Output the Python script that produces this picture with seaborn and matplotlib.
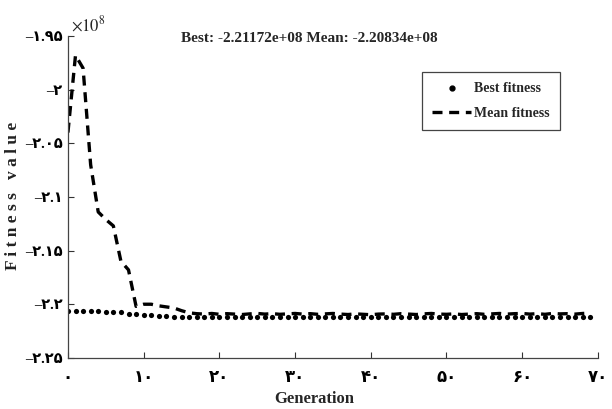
import numpy as np
import pandas as pd
import matplotlib
matplotlib.use("Agg")
import matplotlib.pyplot as plt
from matplotlib.lines import Line2D
import seaborn as sns

# data (fitness values in units of 1e8)
generations = list(range(70))
mean_fitness = [
    -2.040, -1.968, -1.980, -2.070, -2.114, -2.121, -2.127, -2.160, -2.168, -2.202,
    -2.200, -2.200, -2.2015, -2.2025, -2.2035, -2.2060, -2.2080, -2.2088, -2.2092, -2.2086,
    -2.2094, -2.2088, -2.2092, -2.2096, -2.2090, -2.2086, -2.2092, -2.2088, -2.2094, -2.2090,
    -2.2086, -2.2092, -2.2088, -2.2094, -2.2090, -2.2086, -2.2092, -2.2096, -2.2090, -2.2094,
    -2.2098, -2.2092, -2.2090, -2.2094, -2.2088, -2.2092, -2.2096, -2.2090, -2.2086, -2.2092,
    -2.2094, -2.2090, -2.2096, -2.2092, -2.2088, -2.2094, -2.2090, -2.2086, -2.2092, -2.2088,
    -2.2086, -2.2092, -2.2088, -2.2094, -2.2086, -2.2090, -2.2088, -2.2092, -2.2086, -2.20834,
]
best_fitness = (
    [-2.2065] * 5 + [-2.2075] * 3 + [-2.2090] * 2 + [-2.2100] * 2 + [-2.2110] * 2
    + [-2.21172] * 56
)
x_ticks = [0, 10, 20, 30, 40, 50, 60, 70]
y_ticks = [-1.95, -2.0, -2.05, -2.1, -2.15, -2.2, -2.25]
y_tick_labels = ["1.95", "2", "2.05", "2.1", "2.15", "2.2", "2.25"]

df = pd.DataFrame({
    "Generation": generations,
    "Mean": np.array(mean_fitness) * 1e8,
    "Best": np.array(best_fitness) * 1e8,
})

fa = str.maketrans("0123456789", "۰۱۲۳۴۵۶۷۸۹")

sns.set_theme(style="ticks")
serif = ["Liberation Serif", "DejaVu Sans"]
plt.rcParams["font.family"] = serif

fig = plt.figure(figsize=(6.12, 4.09), dpi=100)
ax = fig.add_axes([0.111, 0.125, 0.866, 0.787])

sns.lineplot(data=df, x="Generation", y="Mean", ax=ax, color="black",
             linestyle=(0, (3, 2)), linewidth=2.4)
sns.scatterplot(data=df, x="Generation", y="Best", ax=ax, color="black",
                s=14, linewidth=0)

ax.set_xlim(0, 70)
ax.set_ylim(-2.25e8, -1.95e8)
ax.set_xticks(x_ticks)
ax.set_xticklabels([str(t).translate(fa) for t in x_ticks],
                   fontweight="bold", fontsize=12, family=serif)
ax.set_yticks([v * 1e8 for v in y_ticks])
ax.set_yticklabels(["\u2013" + s.translate(fa) for s in y_tick_labels],
                   fontweight="bold", fontsize=10.5, family=serif)
ax.tick_params(direction="in", length=4, width=0.8, colors="#333333")
ax.tick_params(axis="x", pad=9)
ax.tick_params(axis="y", pad=4)
for lab in ax.get_xticklabels() + ax.get_yticklabels():
    lab.set_color("black")
sns.despine(ax=ax)
for s in ["left", "bottom"]:
    ax.spines[s].set_color("#444444")
    ax.spines[s].set_linewidth(0.9)

ax.set_xlabel("")
ax.set_ylabel("")
fig.text(314 / 612, 1 - 399 / 409, "Generation", ha="center", va="center",
         fontsize=12, fontweight="bold", family=serif)
fig.text(13 / 612, 1 - 196 / 409, "F i t n e s s   v a l u e", ha="center", va="center",
         rotation=90, fontsize=12.5, fontweight="bold", family=serif, color="#222222")
fig.text(309 / 612, 1 - 38 / 409, "Best: -2.21172e+08 Mean: -2.20834e+08",
         ha="center", va="center", fontsize=11, fontweight="bold", family=serif)
fig.text(71 / 612, 1 - 25 / 409, r"$\times10^{8}$", ha="left", va="center",
         fontsize=12, family=serif, math_fontfamily="stix")

handles = [
    Line2D([], [], color="black", marker=".", markersize=7, linestyle="none"),
    Line2D([], [], color="black", linestyle=(0, (3, 2)), linewidth=2.4),
]
leg = ax.legend(handles, ["Best fitness", "Mean fitness"], loc="upper left",
                bbox_to_anchor=((422 - 68) / 530, 1 - (72 - 36) / 322),
                frameon=True, fancybox=False, framealpha=1, edgecolor="#444444",
                prop={"family": serif, "weight": "bold", "size": 10},
                handlelength=2.8, handletextpad=0.2, borderpad=0.75, labelspacing=0.8,
                borderaxespad=0)
leg.get_frame().set_linewidth(0.9)

fig.savefig("out.png", dpi=100)
